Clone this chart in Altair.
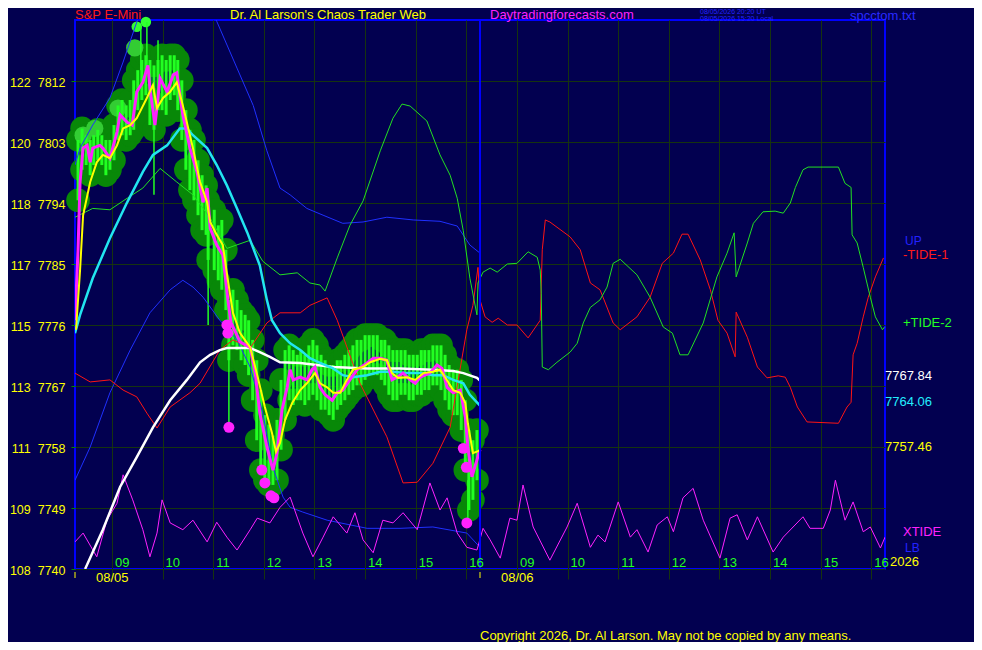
import altair as alt
import pandas as pd

FONT = "Liberation Sans"
BG = "#020050"
GRID = "#16330f"

# ---------------- axes data ----------------
hour_ticks = [9, 10, 11, 12, 13, 14, 15, 16, 17, 18, 19, 20, 21, 22, 23, 24]
hour_labels = ["09", "10", "11", "12", "13", "14", "15", "16",
               "09", "10", "11", "12", "13", "14", "15", "16"]
price_ticks = [7740, 7749, 7758, 7767, 7776, 7785, 7794, 7803, 7812]
index_labels = ["108", "109", "111", "113", "115", "117", "118", "120", "122"]
day_starts = [8.27, 16.27]
day_names = ["08/05", "08/06"]

# ---------------- price bars (time, high, low) ----------------
bars = [
    (8.33, 7803.3, 7794.4), (8.41, 7805.0, 7798.9), (8.49, 7804.0, 7799.6), (8.57, 7803.3, 7798.1),
    (8.64, 7804.0, 7799.6), (8.72, 7804.8, 7800.3), (8.80, 7804.0, 7799.6), (8.88, 7803.3, 7798.1),
    (8.96, 7803.3, 7798.9), (9.04, 7805.5, 7800.3), (9.12, 7808.4, 7803.3), (9.20, 7809.2, 7804.0),
    (9.28, 7808.4, 7803.3), (9.36, 7809.2, 7804.0), (9.43, 7812.1, 7804.8), (9.51, 7813.6, 7807.7),
    (9.59, 7815.1, 7809.2), (9.67, 7815.8, 7809.9), (9.75, 7815.1, 7805.5), (9.83, 7814.3, 7804.8),
    (9.91, 7815.1, 7807.7), (9.99, 7815.8, 7807.7), (10.07, 7815.1, 7807.0), (10.15, 7815.8, 7809.2),
    (10.23, 7815.8, 7809.9), (10.30, 7815.1, 7807.7), (10.38, 7812.1, 7803.3), (10.46, 7807.7, 7798.9),
    (10.54, 7804.8, 7795.9), (10.62, 7803.3, 7794.4), (10.70, 7800.3, 7792.2), (10.78, 7798.1, 7790.0),
    (10.86, 7796.6, 7789.3), (10.90, 7794.4, 7785.6), (11.02, 7793.0, 7784.1), (11.10, 7790.7, 7782.6),
    (11.17, 7791.5, 7781.2), (11.25, 7787.1, 7778.2), (11.31, 7779.7, 7770.8), (11.39, 7781.2, 7773.0),
    (11.47, 7779.7, 7772.3), (11.55, 7778.2, 7770.8), (11.63, 7777.5, 7770.1), (11.70, 7776.7, 7768.6),
    (11.78, 7773.8, 7764.9), (11.86, 7770.8, 7759.0), (11.94, 7766.4, 7754.6), (12.02, 7762.7, 7753.1),
    (12.10, 7761.3, 7752.4), (12.18, 7759.7, 7752.4), (12.26, 7762.0, 7753.1), (12.34, 7767.9, 7757.6),
    (12.42, 7772.3, 7762.0), (12.50, 7773.0, 7764.9), (12.58, 7772.3, 7764.2), (12.66, 7771.6, 7764.9),
    (12.73, 7772.3, 7764.9), (12.81, 7771.6, 7764.2), (12.89, 7773.0, 7764.9), (12.97, 7773.8, 7765.7),
    (13.05, 7773.0, 7764.9), (13.13, 7771.6, 7763.5), (13.21, 7770.8, 7763.5), (13.29, 7770.1, 7762.7),
    (13.37, 7770.1, 7762.0), (13.45, 7770.8, 7763.5), (13.52, 7770.8, 7764.2), (13.60, 7771.6, 7764.9),
    (13.68, 7772.3, 7765.7), (13.76, 7773.0, 7766.4), (13.84, 7773.8, 7767.1), (13.92, 7773.8, 7767.1),
    (14.00, 7774.5, 7767.9), (14.08, 7774.5, 7768.6), (14.16, 7774.5, 7768.6), (14.24, 7774.5, 7768.6),
    (14.32, 7773.8, 7767.9), (14.39, 7773.8, 7767.1), (14.47, 7773.0, 7765.7), (14.55, 7772.3, 7764.9),
    (14.63, 7772.3, 7764.9), (14.71, 7772.3, 7765.7), (14.79, 7772.3, 7765.7), (14.87, 7771.6, 7764.9),
    (14.95, 7771.6, 7764.9), (15.03, 7771.6, 7765.7), (15.11, 7772.3, 7765.7), (15.18, 7772.3, 7766.4),
    (15.26, 7772.3, 7766.4), (15.34, 7773.0, 7767.1), (15.42, 7773.0, 7767.1), (15.50, 7773.0, 7766.4),
    (15.58, 7771.6, 7764.9), (15.66, 7770.1, 7763.5), (15.74, 7769.4, 7762.7), (15.82, 7769.4, 7762.7),
    (15.90, 7767.9, 7760.5), (15.98, 7764.9, 7754.6), (16.05, 7760.5, 7748.7), (16.13, 7759.0, 7750.2),
    (16.21, 7760.5, 7753.1),
]
spikes = [
    (9.57, 7820.2, 7813.6), (9.69, 7820.7, 7814.3), (9.91, 7818.0, 7812.1), (9.83, 7807.7, 7795.2),
    (10.90, 7793.0, 7776.0), (11.31, 7775.3, 7760.9), (16.03, 7753.1, 7746.8),
]
light_blobs = [(8.43, 7804.0), (8.66, 7805.0), (9.12, 7808.0), (9.45, 7816.9)]
top_dots = [(9.49, 7820.0), (9.67, 7820.7)]
signal_dots = [
    (11.27, 7776.0), (11.29, 7774.8), (11.31, 7760.9), (11.96, 7754.6), (12.02, 7752.7),
    (12.14, 7750.8), (12.20, 7750.5), (15.94, 7757.8), (16.00, 7755.0), (16.01, 7746.8),
]

# ---------------- averages ----------------
close_line = [
    (8.27, 7776.7), (8.33, 7787.1), (8.37, 7797.1), (8.43, 7802.1), (8.51, 7802.5), (8.57, 7800.0),
    (8.62, 7802.1), (8.76, 7802.5), (8.82, 7802.1), (8.96, 7800.6), (9.10, 7804.5), (9.16, 7807.0),
    (9.30, 7805.9), (9.40, 7805.5), (9.49, 7810.4), (9.61, 7811.8), (9.71, 7814.3), (9.75, 7810.9),
    (9.85, 7805.5), (9.95, 7812.4), (10.09, 7810.4), (10.21, 7812.9), (10.28, 7813.2), (10.40, 7807.0),
    (10.54, 7802.1), (10.68, 7798.6), (10.80, 7794.1), (10.88, 7796.2), (10.94, 7790.3), (11.07, 7787.8),
    (11.19, 7786.3), (11.29, 7779.7), (11.35, 7776.4), (11.53, 7773.5), (11.73, 7772.7), (11.83, 7768.9),
    (11.92, 7763.0), (12.06, 7758.0), (12.18, 7754.6), (12.26, 7757.1), (12.36, 7763.5), (12.46, 7766.8),
    (12.52, 7769.4), (12.58, 7767.9), (12.72, 7768.3), (12.85, 7767.9), (12.95, 7769.4), (13.01, 7769.8),
    (13.11, 7766.8), (13.21, 7765.7), (13.35, 7764.9), (13.45, 7766.0), (13.56, 7766.4), (13.70, 7767.9),
    (13.84, 7769.4), (14.04, 7770.4), (14.16, 7771.1), (14.30, 7771.1), (14.43, 7770.8), (14.53, 7767.9),
    (14.63, 7768.3), (14.75, 7768.9), (14.89, 7767.9), (14.99, 7767.4), (15.09, 7768.3), (15.28, 7768.9),
    (15.42, 7770.1), (15.52, 7769.6), (15.62, 7766.8), (15.74, 7766.0), (15.88, 7766.4), (15.98, 7762.4),
    (16.03, 7758.0), (16.11, 7753.6), (16.21, 7756.1), (16.27, 7757.6),
]
yellow_ma = [
    (8.29, 7775.3), (8.37, 7784.1), (8.43, 7792.2), (8.57, 7797.1), (8.70, 7800.0), (8.82, 7801.1),
    (8.96, 7800.6), (9.10, 7802.5), (9.22, 7805.0), (9.36, 7805.5), (9.49, 7806.5), (9.69, 7809.5),
    (9.81, 7811.4), (9.89, 7808.0), (10.01, 7809.5), (10.15, 7810.4), (10.28, 7811.8), (10.40, 7808.4),
    (10.60, 7802.1), (10.74, 7797.1), (10.88, 7794.1), (10.94, 7791.2), (11.07, 7789.3), (11.19, 7787.8),
    (11.29, 7782.6), (11.39, 7777.8), (11.53, 7774.8), (11.73, 7772.7), (11.88, 7768.3), (12.02, 7763.9),
    (12.16, 7760.1), (12.24, 7757.3), (12.32, 7758.6), (12.42, 7762.0), (12.56, 7764.5), (12.72, 7766.4),
    (12.85, 7767.4), (13.01, 7768.9), (13.11, 7767.4), (13.25, 7766.8), (13.37, 7766.0), (13.51, 7766.0),
    (13.64, 7767.9), (13.76, 7769.4), (13.96, 7769.8), (14.10, 7770.5), (14.30, 7771.0), (14.43, 7770.8),
    (14.53, 7768.9), (14.65, 7768.2), (14.83, 7768.3), (14.99, 7767.9), (15.15, 7768.9), (15.34, 7769.1),
    (15.48, 7769.4), (15.58, 7768.3), (15.74, 7766.4), (15.88, 7766.0), (15.98, 7764.5), (16.03, 7761.5),
    (16.13, 7757.1), (16.27, 7757.5),
]
cyan_ma = [
    (8.27, 7774.8), (8.37, 7777.5), (8.62, 7782.9), (8.96, 7788.8), (9.30, 7794.1), (9.61, 7798.6),
    (9.81, 7801.1), (10.09, 7802.5), (10.34, 7805.0), (10.48, 7805.0), (10.60, 7804.0), (10.88, 7802.1),
    (11.07, 7799.6), (11.27, 7796.6), (11.47, 7793.2), (11.67, 7789.7), (11.92, 7784.8), (12.06, 7779.7),
    (12.16, 7776.7), (12.32, 7774.8), (12.52, 7773.3), (12.72, 7772.3), (12.91, 7771.1), (13.11, 7770.4),
    (13.37, 7769.6), (13.56, 7768.6), (13.76, 7768.3), (14.04, 7768.6), (14.30, 7769.1), (14.55, 7769.1),
    (14.83, 7768.9), (15.09, 7768.9), (15.34, 7768.6), (15.54, 7768.6), (15.74, 7767.9), (15.94, 7767.4),
    (16.07, 7765.7), (16.27, 7764.1),
]
white_ma = [
    (8.47, 7740.0), (8.82, 7745.8), (9.16, 7752.1), (9.49, 7756.5), (9.81, 7760.9), (10.15, 7764.9),
    (10.48, 7767.9), (10.74, 7770.5), (10.94, 7771.6), (11.13, 7772.3), (11.27, 7772.6), (11.73, 7772.6),
    (11.92, 7772.0), (12.12, 7771.3), (12.32, 7770.5), (12.72, 7770.4), (13.37, 7769.8), (14.04, 7769.6),
    (14.69, 7769.6), (15.34, 7769.4), (15.74, 7769.2), (15.94, 7768.9), (16.21, 7768.2), (16.27, 7767.8),
]
band_upper = [
    (8.27, 7799.6), (8.37, 7802.1), (8.62, 7805.5), (8.96, 7809.5), (9.22, 7814.8), (9.49, 7820.7),
    (9.57, 7822.2), (10.98, 7822.2), (11.07, 7820.8), (11.47, 7813.9), (11.79, 7808.4), (12.06, 7801.7),
    (12.32, 7796.2), (12.52, 7795.2), (12.85, 7793.2), (13.17, 7792.2), (13.56, 7791.0), (13.96, 7791.2),
    (14.43, 7791.9), (14.95, 7791.5), (15.48, 7791.3), (15.82, 7790.6), (16.07, 7787.8), (16.27, 7786.6),
]
band_lower = [
    (8.27, 7753.1), (8.57, 7758.0), (8.96, 7766.0), (9.36, 7772.3), (9.75, 7777.8), (10.15, 7781.2),
    (10.40, 7782.6), (10.60, 7781.6), (10.80, 7780.1), (11.13, 7776.7), (11.47, 7773.8), (11.73, 7769.8),
    (11.98, 7763.0), (12.18, 7755.0), (12.38, 7750.6), (12.52, 7749.1), (12.77, 7748.4), (13.25, 7747.2),
    (14.04, 7746.0), (14.69, 7746.0), (15.34, 7746.2), (16.01, 7745.3), (16.27, 7743.2),
]

# ---------------- tides ----------------
tide1 = [
    (8.27, 7768.9), (8.57, 7767.6), (8.96, 7767.9), (9.22, 7766.4), (9.49, 7765.4), (9.69, 7763.0),
    (9.89, 7760.8), (10.15, 7763.9), (10.54, 7766.0), (10.74, 7767.4), (11.13, 7772.3), (11.39, 7773.8),
    (11.73, 7772.6), (12.06, 7776.3), (12.32, 7777.8), (12.72, 7777.8), (12.91, 7778.9), (13.25, 7780.0),
    (13.45, 7776.7), (13.90, 7767.4), (14.43, 7759.5), (14.75, 7752.7), (15.03, 7752.8), (15.34, 7755.6),
    (15.68, 7760.9), (16.01, 7775.3), (16.13, 7778.9), (16.23, 7784.5), (16.27, 7779.7), (16.37, 7777.2),
    (16.51, 7776.4), (16.63, 7777.0), (16.81, 7776.0), (17.00, 7776.0), (17.22, 7774.1), (17.46, 7776.7),
    (17.50, 7787.1), (17.56, 7791.5), (17.65, 7791.2), (18.05, 7789.0), (18.25, 7787.1), (18.45, 7782.2),
    (18.64, 7781.2), (18.70, 7780.1), (18.90, 7776.3), (19.04, 7775.3), (19.37, 7777.2), (19.63, 7780.1),
    (19.87, 7785.1), (20.09, 7786.6), (20.26, 7789.4), (20.38, 7789.4), (20.62, 7785.6), (20.82, 7781.2),
    (20.97, 7776.7), (21.15, 7774.8), (21.31, 7771.3), (21.33, 7777.9), (21.55, 7774.2), (21.75, 7769.8),
    (21.94, 7768.2), (22.16, 7768.5), (22.30, 7768.3), (22.40, 7766.8), (22.54, 7763.9), (22.73, 7761.7),
    (23.35, 7761.5), (23.52, 7763.9), (23.60, 7764.6), (23.64, 7771.6), (23.72, 7773.3), (23.84, 7777.2),
    (23.94, 7780.1), (24.08, 7783.1), (24.24, 7785.9),
]
tide2 = [
    (8.27, 7791.9), (8.62, 7793.2), (8.96, 7793.0), (9.30, 7794.7), (9.61, 7796.2), (9.95, 7799.1),
    (10.28, 7797.1), (10.60, 7795.2), (10.94, 7791.8), (11.27, 7787.3), (11.73, 7788.5), (11.98, 7785.4),
    (12.32, 7783.4), (12.66, 7783.7), (12.91, 7782.2), (13.11, 7781.9), (13.21, 7781.0), (13.45, 7785.9),
    (13.70, 7790.7), (13.96, 7794.3), (14.30, 7801.7), (14.55, 7806.5), (14.73, 7808.6), (14.89, 7808.3),
    (15.22, 7806.1), (15.48, 7801.1), (15.68, 7798.1), (15.82, 7794.7), (15.94, 7789.9), (16.07, 7782.9),
    (16.21, 7777.5), (16.23, 7782.2), (16.33, 7783.8), (16.47, 7784.4), (16.61, 7783.8), (16.81, 7785.0),
    (17.00, 7785.1), (17.22, 7786.8), (17.40, 7786.0), (17.46, 7784.1), (17.48, 7780.7), (17.50, 7769.8),
    (17.62, 7769.4), (17.79, 7770.5), (18.05, 7772.0), (18.19, 7773.3), (18.31, 7776.3), (18.45, 7778.6),
    (18.64, 7779.7), (18.78, 7781.6), (18.90, 7785.1), (19.04, 7785.7), (19.37, 7783.4), (19.63, 7780.1),
    (19.89, 7775.7), (20.07, 7774.8), (20.22, 7771.6), (20.38, 7771.6), (20.68, 7776.3), (20.95, 7783.1),
    (21.15, 7786.6), (21.29, 7789.6), (21.33, 7783.1), (21.55, 7788.1), (21.67, 7791.0), (21.86, 7792.7),
    (22.10, 7792.8), (22.26, 7792.5), (22.40, 7794.0), (22.50, 7796.3), (22.65, 7798.9), (22.75, 7799.3),
    (23.35, 7799.3), (23.48, 7796.9), (23.60, 7796.3), (23.62, 7789.3), (23.72, 7788.1), (23.84, 7784.5),
    (23.98, 7780.1), (24.08, 7777.2), (24.22, 7775.3), (24.26, 7775.7),
]
xtide = [
    (8.27, 7744.0), (8.43, 7745.3), (8.70, 7741.8), (8.90, 7747.2), (9.10, 7749.7), (9.22, 7753.9),
    (9.41, 7750.2), (9.61, 7745.8), (9.75, 7741.8), (9.89, 7745.3), (9.99, 7750.2), (10.15, 7746.8),
    (10.40, 7745.8), (10.60, 7747.2), (10.88, 7744.0), (11.07, 7746.9), (11.27, 7744.7), (11.47, 7742.8),
    (11.73, 7745.8), (11.87, 7747.5), (12.12, 7746.8), (12.32, 7749.1), (12.52, 7750.6), (12.77, 7745.3),
    (12.97, 7741.8), (13.17, 7744.7), (13.37, 7747.7), (13.64, 7745.3), (13.80, 7748.3), (13.96, 7744.3),
    (14.16, 7742.4), (14.35, 7747.2), (14.55, 7746.8), (14.75, 7748.3), (15.03, 7745.8), (15.28, 7752.7),
    (15.48, 7748.7), (15.62, 7750.5), (15.82, 7745.3), (16.01, 7743.2), (16.21, 7742.8), (16.33, 7746.0),
    (16.47, 7744.3), (16.67, 7741.6), (16.86, 7747.5), (17.00, 7747.2), (17.12, 7752.4), (17.32, 7746.2),
    (17.65, 7741.3), (17.99, 7746.2), (18.19, 7749.7), (18.45, 7743.2), (18.60, 7745.0), (18.74, 7744.0),
    (19.00, 7749.9), (19.24, 7744.7), (19.37, 7745.8), (19.59, 7742.5), (19.77, 7746.5), (19.97, 7747.7),
    (20.09, 7745.5), (20.28, 7750.5), (20.48, 7751.9), (20.68, 7747.2), (21.01, 7741.6), (21.21, 7747.5),
    (21.35, 7748.0), (21.55, 7744.3), (21.75, 7747.7), (22.06, 7742.5), (22.26, 7744.7), (22.65, 7747.7),
    (22.79, 7746.0), (23.05, 7746.0), (23.19, 7748.7), (23.29, 7753.1), (23.48, 7747.2), (23.64, 7749.9),
    (23.84, 7745.5), (23.98, 7746.2), (24.18, 7743.1), (24.27, 7744.7),
]

# ---------------- build ----------------
def pts(pairs):
    return pd.DataFrame(pairs, columns=["t", "p"])

bars_df = pd.DataFrame(bars, columns=["t", "hi", "lo"])
spikes_df = pd.DataFrame(spikes, columns=["t", "hi", "lo"])
halo_df = pd.concat([
    bars_df[["t", "hi"]].rename(columns={"hi": "p"}),
    bars_df[["t", "lo"]].rename(columns={"lo": "p"}),
])
ticks_df = pd.DataFrame({"t": hour_ticks, "label": hour_labels})
days_df = pd.DataFrame({"t": day_starts, "label": day_names})

xscale = alt.Scale(domain=[8.27, 24.27], nice=False, zero=False)
yscale = alt.Scale(domain=[7740, 7821], nice=False, zero=False)

GAP = "\u00a0\u00a0"
label_expr = ""
for v, ix in zip(price_ticks, index_labels):
    label_expr += f"datum.value == {v} ? '{ix}{GAP}{v}' : "
label_expr += "datum.label"

xaxis = alt.Axis(values=hour_ticks, grid=True, gridColor=GRID, gridWidth=1, labels=False,
                 ticks=True, tickColor=GRID, tickSize=10, domain=False, title=None)
yaxis = alt.Axis(values=price_ticks, grid=True, gridColor=GRID, gridWidth=1, labelExpr=label_expr,
                 labelColor="#ffff00", labelFont=FONT, labelFontSize=12.5, tickColor="#008800",
                 tickSize=4, labelPadding=6, domain=False, title=None, labelBaseline="alphabetic",
                 labelOffset=5)


def X(f="t"):
    return alt.X(f"{f}:Q", scale=xscale, axis=xaxis)


def Y(f="p"):
    return alt.Y(f"{f}:Q", scale=yscale, axis=yaxis)


def line(pairs, color, width, clip=True):
    return alt.Chart(pts(pairs)).mark_line(color=color, strokeWidth=width, clip=clip).encode(
        x=X(), y=Y(), order="t:Q")


halo = alt.Chart(halo_df).mark_circle(size=560, color="#088808", opacity=1).encode(x=X(), y=Y())
light = alt.Chart(pts(light_blobs)).mark_circle(size=300, color="#33cc33", opacity=1).encode(x=X(), y=Y())
topd = alt.Chart(pts(top_dots)).mark_circle(size=110, color="#33ff33", opacity=1).encode(x=X(), y=Y())
bar_rules = alt.Chart(bars_df).mark_rule(color="#22ff22", strokeWidth=3).encode(
    x=X(), y=Y("hi"), y2=alt.Y2("lo:Q"))
spike_rules = alt.Chart(spikes_df).mark_rule(color="#22ff22", strokeWidth=1.5).encode(
    x=X(), y=Y("hi"), y2=alt.Y2("lo:Q"))
dots = alt.Chart(pts(signal_dots)).mark_circle(size=120, color="#ff22ff", opacity=1).encode(x=X(), y=Y())

separator = alt.Chart(days_df.iloc[[1]]).mark_rule(color="#0000ff", strokeWidth=2).encode(x=X())
day_ticks = alt.Chart(days_df).mark_rule(color="#ffff00", strokeWidth=1).encode(
    x=X(), y=alt.value(552), y2=alt.value(558))
hour_text = alt.Chart(ticks_df).mark_text(color="#22ff22", fontSize=13, font=FONT, align="left",
                                          baseline="middle", dx=3).encode(
    x=X(), y=alt.value(543), text="label:N")
day_text = alt.Chart(days_df).mark_text(color="#ffff00", fontSize=13, font=FONT, align="left",
                                        baseline="middle", dx=21).encode(
    x=X(), y=alt.value(558), text="label:N")


def note(text, x, y, color, size=13):
    return alt.Chart(alt.Data(values=[{}])).mark_text(
        text=text, color=color, fontSize=size, font=FONT, align="left", baseline="middle"
    ).encode(x=alt.value(x), y=alt.value(y))


notes = [
    note("S&P E-Mini", 0, -5, "#ff1a1a"),
    note("Dr. Al Larson's Chaos Trader Web", 155, -5, "#ffff00"),
    note("Daytradingforecasts.com", 415, -5, "#ff22ff"),
    note("08/05/2026 20:20 UT", 625, -8.5, "#2222ff", 7),
    note("08/05/2026 15:20 Local", 625, -1.5, "#2222ff", 7),
    note("spcctom.txt", 775, -4.5, "#2a2aff"),
    note("UP", 830, 221, "#2222ff", 12),
    note("-TIDE-1", 828, 235, "#ff1a1a"),
    note("+TIDE-2", 828, 303, "#22ff22"),
    note("7767.84", 810, 356, "#ffffff"),
    note("7764.06", 810, 382, "#22eeff"),
    note("7757.46", 810, 427, "#ffff00"),
    note("XTIDE", 828, 512, "#ff22ff"),
    note("LB", 830, 528, "#2222ff", 12),
    note("2026", 815, 542, "#ffff00"),
    note("Copyright 2026, Dr. Al Larson. May not be copied by any means.", 405, 616, "#ffff00"),
]

chart = alt.layer(
    halo, light, topd, bar_rules, spike_rules,
    line(band_upper, "#1f30ff", 1), line(band_lower, "#1f30ff", 1),
    line(tide1, "#ff1414", 1), line(tide2, "#22e022", 1), line(xtide, "#ff22ff", 1),
    line(white_ma, "#ffffff", 2.5), line(cyan_ma, "#22e5f0", 2.5),
    line(close_line, "#ff22ff", 3), line(yellow_ma, "#ffff00", 2),
    dots, separator, day_ticks, hour_text, day_text, *notes,
).properties(
    width=810, height=549, background=BG,
    padding={"left": 67, "top": 12, "right": 89, "bottom": 73},
    autosize=alt.AutoSizeParams(type="none"),
).configure_view(stroke="#0000ff", strokeWidth=2)

chart.save("out.html", embed_options={"renderer": "svg", "actions": False})
